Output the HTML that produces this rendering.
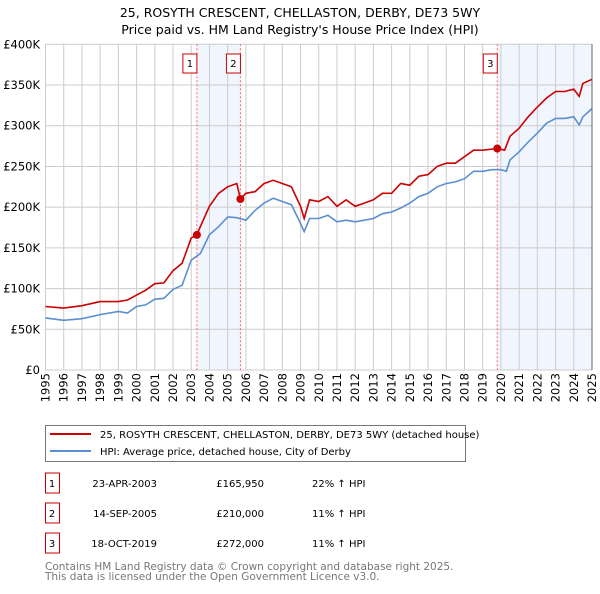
<!DOCTYPE html>
<html><head><meta charset="utf-8"><style>
body{margin:0;background:#fff;font-family:"DejaVu Sans","Liberation Sans",sans-serif;}
svg text{font-family:"DejaVu Sans","Liberation Sans",sans-serif;}
</style></head><body>
<svg id="chart" width="600" height="590" xmlns="http://www.w3.org/2000/svg">
<text x="300" y="17" text-anchor="middle" font-size="12.5">25, ROSYTH CRESCENT, CHELLASTON, DERBY, DE73 5WY</text>
<text x="300" y="34" text-anchor="middle" font-size="12.5">Price paid vs. HM Land Registry's House Price Index (HPI)</text>
<g id="plot"></g>
<g>
<rect x="45.5" y="425.5" width="420" height="36" fill="#fff" stroke="#777"/>
<line x1="50" y1="434" x2="91" y2="434" stroke="#cc0000" stroke-width="2"/>
<text x="100" y="438" font-size="10">25, ROSYTH CRESCENT, CHELLASTON, DERBY, DE73 5WY (detached house)</text>
<line x1="50" y1="451" x2="91" y2="451" stroke="#5b8fd0" stroke-width="2"/>
<text x="100" y="455" font-size="10">HPI: Average price, detached house, City of Derby</text>
</g>
<g id="table" font-size="10"></g>
<text x="45" y="570" font-size="10.5" fill="#777">Contains HM Land Registry data © Crown copyright and database right 2025.</text>
<text x="45" y="580" font-size="10.5" fill="#777">This data is licensed under the Open Government Licence v3.0.</text>
</svg>
<script>
const hpiYears=[1995,1996,1997,1998,1999,1999.5,2000,2000.5,2001,2001.5,2002,2002.5,2003,2003.5,2004,2004.5,2005,2005.5,2006,2006.5,2007,2007.5,2008,2008.5,2009,2009.2,2009.5,2010,2010.5,2011,2011.5,2012,2012.5,2013,2013.5,2014,2014.5,2015,2015.5,2016,2016.5,2017,2017.5,2018,2018.5,2019,2019.5,2020,2020.3,2020.5,2021,2021.5,2022,2022.5,2023,2023.5,2024,2024.3,2024.5,2025];
const hpiValues=[64,61,63,68,72,70,78,80,87,88,99,104,135,143,166,176,188,187,184,196,205,211,207,203,180,170,186,186,190,182,184,182,184,186,192,194,199,205,213,217,225,229,231,235,244,244,246,246,244,258,268,280,291,303,309,309,311,301,311,321];
const priceYears=[1995,1996,1997,1998,1999,1999.5,2000,2000.5,2001,2001.5,2002,2002.5,2003,2003.3,2004,2004.5,2005,2005.5,2005.7,2006,2006.5,2007,2007.5,2008,2008.5,2009,2009.2,2009.5,2010,2010.5,2011,2011.5,2012,2012.5,2013,2013.5,2014,2014.5,2015,2015.5,2016,2016.5,2017,2017.5,2018,2018.5,2019,2019.8,2020.2,2020.5,2021,2021.5,2022,2022.5,2023,2023.5,2024,2024.3,2024.5,2025];
const priceValues=[78,76,79,84,84,86,92,98,106,107,122,131,162,166,201,217,225,229,210,217,219,229,233,229,225,201,186,209,207,213,201,209,201,205,209,217,217,229,227,238,240,250,254,254,262,270,270,272,270,287,297,311,323,334,342,342,345,336,352,357];
const saleLabels=["1","2","3"];
const saleYears=[2003.31,2005.7,2019.8];
const salePrices=[165.95,210,272];
const saleDates=["23-APR-2003","14-SEP-2005","18-OCT-2019"];
const salePriceText=["£165,950","£210,000","£272,000"];
const saleHpiText=["22% ↑ HPI","11% ↑ HPI","11% ↑ HPI"];
const yTicks=[0,50,100,150,200,250,300,350,400];
const yTickLabels=["£0","£50K","£100K","£150K","£200K","£250K","£300K","£350K","£400K"];
const xTicks=[1995,1996,1997,1998,1999,2000,2001,2002,2003,2004,2005,2006,2007,2008,2009,2010,2011,2012,2013,2014,2015,2016,2017,2018,2019,2020,2021,2022,2023,2024,2025];

const NS="http://www.w3.org/2000/svg";
const X0=45.5,X1=592,Y0=370,Y1=44.3;
const xs=y=>X0+(y-1995)/30*(X1-X0);
const ys=v=>Y0-v/400*(Y0-Y1);
const plot=document.getElementById('plot');
function mk(tag,attrs,parent){const e=document.createElementNS(NS,tag);for(const k in attrs)e.setAttribute(k,attrs[k]);(parent||plot).appendChild(e);return e;}
// shading
const shades=[[saleYears[0],saleYears[1]],[saleYears[2],2025]];
shades.forEach((s,i)=>{const r=mk('rect',{x:xs(s[0]),y:Y1,width:xs(s[1])-xs(s[0]),height:Y0-Y1,fill:'#eef3fc',opacity:0.8});

});
// grid
yTicks.forEach((t,i)=>{const l=mk('line',{x1:X0,x2:X1,y1:ys(t),y2:ys(t),stroke:'#cccccc'});


const tx=mk('text',{x:40,y:ys(t)+4,'text-anchor':'end','font-size':'11.5'});tx.textContent=yTickLabels[i];

});
xTicks.forEach(t=>{const l=mk('line',{x1:xs(t),x2:xs(t),y1:Y1,y2:Y0,stroke:'#cccccc'});


const tx=mk('text',{x:0,y:0,'text-anchor':'end','font-size':'11.5',transform:`translate(${xs(t)+4},${Y0+3}) rotate(-90)`});tx.textContent=t;

});
// sale lines
saleYears.forEach((y,i)=>{const l=mk('line',{x1:xs(y),x2:xs(y),y1:Y1,y2:Y0,stroke:'#ff6666','stroke-dasharray':'2,2'});


const r=mk('rect',{x:xs(y)-14,y:54,width:14,height:19,fill:'#fff',stroke:'#cc0000'});


const tx=mk('text',{x:xs(y)-7,y:67,'text-anchor':'middle','font-size':'10'});tx.textContent=saleLabels[i];

});
function path(xv,yv){return xv.map((x,i)=>(i?'L':'M')+xs(x).toFixed(1)+','+ys(yv[i]).toFixed(1)).join('');}
const hp=mk('path',{d:path(hpiYears,hpiValues),fill:'none',stroke:'#5b8fd0','stroke-width':1.6});


const pp=mk('path',{d:path(priceYears,priceValues),fill:'none',stroke:'#cc0000','stroke-width':1.6});


saleYears.forEach((y,i)=>{const c=mk('circle',{cx:xs(y),cy:ys(salePrices[i]),r:4,fill:'#cc0000'});

});
mk('line',{x1:X1,x2:X1,y1:Y1,y2:Y0,stroke:'#666'});
// table
const tb=document.getElementById('table');
saleLabels.forEach((s,i)=>{const cy=483+i*30;
const r=mk('rect',{x:45.5,y:cy-10,width:14,height:20,fill:'#fff',stroke:'#cc0000'},tb);


const cells=[[52,'middle',s],[157,'end',saleDates[i]],[264,'end',salePriceText[i]],[312,'start',saleHpiText[i]]];
cells.forEach(c=>{const t=mk('text',{x:c[0],y:cy+4,'text-anchor':c[1]},tb);t.textContent=c[2];

});});
</script>
</body></html>
